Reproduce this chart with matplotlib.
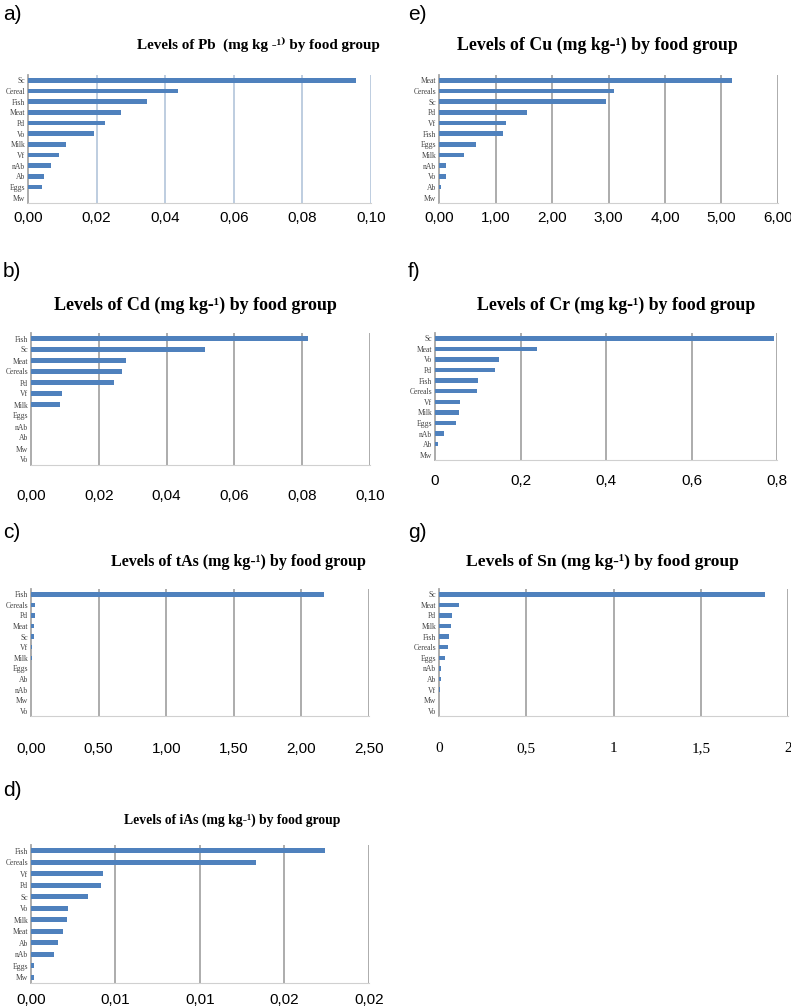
import matplotlib
matplotlib.use("Agg")
import matplotlib.pyplot as plt

W, H = 791, 1008
BLUE = "#4F81BD"
GRID = "#A6A6A6"

# a) Pb
pb_groups = ["Sc", "Cereal", "Fish", "Meat", "Pd", "Vo", "Milk", "Vf", "nAb", "Ab", "Eggs", "Mw"]
pb_values = [0.0956, 0.0437, 0.0347, 0.0271, 0.0225, 0.0192, 0.0110, 0.0090, 0.0067, 0.0047, 0.0041, 0.0]
pb_ticks = [0, 0.02, 0.04, 0.06, 0.08, 0.10]
pb_labels = ["0,00", "0,02", "0,04", "0,06", "0,08", "0,10"]

# b) Cd
cd_groups = ["Fish", "Sc", "Meat", "Cereals", "Pd", "Vf", "Milk", "Eggs", "nAb", "Ab", "Mw", "Vo"]
cd_values = [0.0818, 0.0513, 0.0279, 0.0269, 0.0246, 0.0091, 0.0086, 0, 0, 0, 0, 0]
cd_ticks = [0, 0.02, 0.04, 0.06, 0.08, 0.10]
cd_labels = ["0,00", "0,02", "0,04", "0,06", "0,08", "0,10"]

# c) tAs
tas_groups = ["Fish", "Cereals", "Pd", "Meat", "Sc", "Vf", "Milk", "Eggs", "Ab", "nAb", "Mw", "Vo"]
tas_values = [2.17, 0.027, 0.027, 0.020, 0.020, 0.007, 0.010, 0, 0, 0, 0, 0]
tas_ticks = [0, 0.5, 1.0, 1.5, 2.0, 2.5]
tas_labels = ["0,00", "0,50", "1,00", "1,50", "2,00", "2,50"]

# d) iAs
ias_groups = ["Fish", "Cereals", "Vf", "Pd", "Sc", "Vo", "Milk", "Meat", "Ab", "nAb", "Eggs", "Mw"]
ias_values = [0.0174, 0.0133, 0.00424, 0.00412, 0.00339, 0.00219, 0.00211, 0.00191, 0.00158, 0.00136, 0.0002, 0.0002]
ias_ticks = [0, 0.005, 0.01, 0.015, 0.02]
ias_labels = ["0,00", "0,01", "0,01", "0,02", "0,02"]

# e) Cu
cu_groups = ["Meat", "Cereals", "Sc", "Pd", "Vf", "Fish", "Eggs", "Milk", "nAb", "Vo", "Ab", "Mw"]
cu_values = [5.18, 3.10, 2.96, 1.55, 1.19, 1.13, 0.65, 0.44, 0.12, 0.12, 0.04, 0]
cu_ticks = [0, 1, 2, 3, 4, 5, 6]
cu_labels = ["0,00", "1,00", "2,00", "3,00", "4,00", "5,00", "6,00"]

# f) Cr
cr_groups = ["Sc", "Meat", "Vo", "Pd", "Fish", "Cereals", "Vf", "Milk", "Eggs", "nAb", "Ab", "Mw"]
cr_values = [0.794, 0.239, 0.149, 0.141, 0.101, 0.098, 0.059, 0.055, 0.048, 0.021, 0.008, 0]
cr_ticks = [0, 0.2, 0.4, 0.6, 0.8]
cr_labels = ["0", "0,2", "0,4", "0,6", "0,8"]

# g) Sn
sn_groups = ["Sc", "Meat", "Pd", "Milk", "Fish", "Cereals", "Eggs", "nAb", "Ab", "Vf", "Mw", "Vo"]
sn_values = [1.87, 0.113, 0.073, 0.067, 0.059, 0.054, 0.034, 0.013, 0.013, 0.008, 0, 0]
sn_ticks = [0, 0.5, 1.0, 1.5, 2.0]
sn_labels = ["0", "0,5", "1", "1,5", "2"]


def rect(x0, y0, x1, y1):
    return [x0 / W, 1 - y1 / H, (x1 - x0) / W, (y1 - y0) / H]


def panel(fig, box, groups, values, ticks, labels, title, title_xy, title_size, letter, letter_xy,
          pad=6, tick_font="Liberation Sans", grid_color=GRID):
    ax = fig.add_axes(rect(*box))
    ypos = range(len(groups))
    ax.barh(ypos, values, height=0.42, color=BLUE, zorder=3)
    ax.set_ylim(len(groups) - 0.5, -0.5)
    ax.set_xlim(ticks[0], ticks[-1])
    ax.set_yticks(list(ypos))
    ax.set_yticklabels(groups, fontsize=5.5, family="Liberation Serif", color="#444444")
    ax.set_xticks(ticks)
    ax.set_xticklabels(labels, fontsize=11, family=tick_font)
    ax.tick_params(axis="both", length=0)
    ax.tick_params(axis="x", pad=pad)
    ax.tick_params(axis="y", pad=2)
    for x in ticks[1:]:
        ax.axvline(x, color=grid_color, lw=1.3, zorder=1)
    for s in ["top", "right"]:
        ax.spines[s].set_visible(False)
    ax.spines["left"].set_color(GRID)
    ax.spines["left"].set_linewidth(1.3)
    ax.spines["bottom"].set_color("#D0D0D0")
    ax.spines["bottom"].set_linewidth(0.8)
    fig.text(title_xy[0] / W, 1 - title_xy[1] / H, title, ha="center", va="center",
             fontsize=title_size, fontweight="bold", family=["Liberation Serif", "DejaVu Serif"])
    fig.text(letter_xy[0] / W, 1 - letter_xy[1] / H, letter, ha="left", va="center",
             fontsize=15, family="Liberation Sans")
    return ax


fig = plt.figure(figsize=(W / 100, H / 100), dpi=100)

panel(fig, (28, 75, 371, 203), pb_groups, pb_values, pb_ticks, pb_labels,
      "Levels of Pb  (mg kg -¹⁾ by food group", (258, 45), 10.9, "a)", (3, 15),
      pad=6, grid_color="#B9C9DD")
panel(fig, (31, 333, 370, 465), cd_groups, cd_values, cd_ticks, cd_labels,
      "Levels of Cd (mg kg-¹) by food group", (195, 305), 13, "b)", (3, 272), pad=17)
panel(fig, (31, 589, 369, 716), tas_groups, tas_values, tas_ticks, tas_labels,
      "Levels of tAs (mg kg-¹) by food group", (238, 562), 11.5, "c)", (3, 532), pad=19)
panel(fig, (31, 845, 369, 983), ias_groups, ias_values, ias_ticks, ias_labels,
      "Levels of iAs (mg kg-¹) by food group", (232, 820), 9.8, "d)", (3, 790), pad=7)
panel(fig, (439, 75, 778, 203), cu_groups, cu_values, cu_ticks, cu_labels,
      "Levels of Cu (mg kg-¹) by food group", (597, 45), 12.8, "e)", (408, 15), pad=6)
panel(fig, (435, 333, 777, 460), cr_groups, cr_values, cr_ticks, cr_labels,
      "Levels of Cr (mg kg-¹) by food group", (616, 305), 12.8, "f)", (408, 272), pad=10)
panel(fig, (439, 589, 788, 716), sn_groups, sn_values, sn_ticks, sn_labels,
      "Levels of Sn (mg kg-¹) by food group", (602, 562), 12.6, "g)", (408, 532), pad=19,
      tick_font="Liberation Serif")

fig.savefig("out.png", dpi=100)
